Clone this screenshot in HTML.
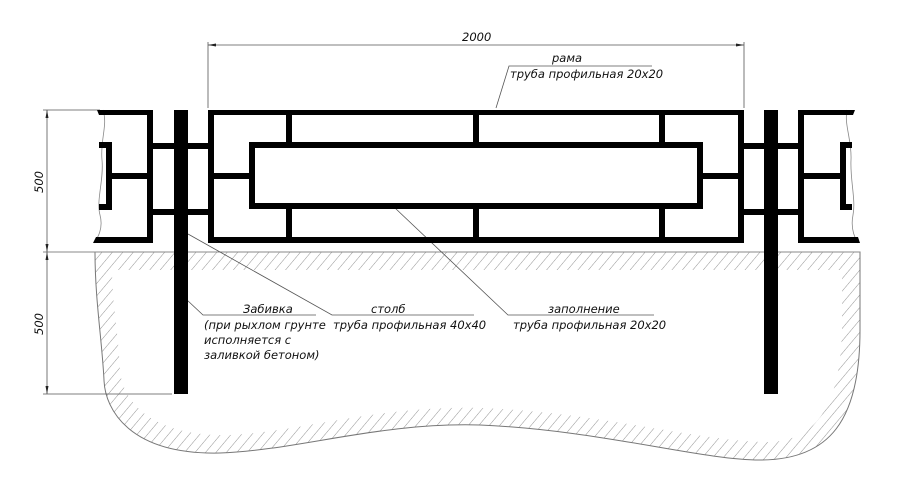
<!DOCTYPE html>
<html><head><meta charset="utf-8"><style>
html,body{margin:0;padding:0;background:#fff;}
svg{display:block;}
text{font-family:"DejaVu Sans","Liberation Sans",sans-serif;font-style:italic;font-size:11.5px;fill:#111;}
</style></head><body>
<svg width="900" height="478" viewBox="0 0 900 478" xmlns="http://www.w3.org/2000/svg">
<defs>
<pattern id="h" patternUnits="userSpaceOnUse" width="8" height="8" patternTransform="rotate(40)">
<line x1="0" y1="0" x2="0" y2="8" stroke="#777" stroke-width="0.8"/>
</pattern>
</defs>
<!-- ground -->
<path d="M95,252 L860,252 L860,330 C860,420 830,460 760,460 C700,460 600,430 480,425 C380,422 300,450 220,453 C130,455 105,410 104,380 C102,340 95,300 95,252 Z" fill="url(#h)" stroke="#777" stroke-width="1"/>
<path d="M112,270 L842,270 L842,330 C840,400 820,440 770,442 C700,442 600,412 480,408 C380,405 300,432 230,435 C150,437 122,400 120,370 C118,330 112,300 112,270 Z" fill="#fff"/>
<line x1="43" y1="252" x2="860" y2="252" stroke="#888" stroke-width="1"/>

<!-- dimensions -->
<g stroke="#555" stroke-width="0.8" fill="none">
<line x1="208" y1="42" x2="208" y2="108"/>
<line x1="744" y1="42" x2="744" y2="108"/>
<line x1="208" y1="45" x2="744" y2="45"/>
<line x1="43" y1="110" x2="100" y2="110"/>
<line x1="43" y1="394" x2="172" y2="394"/>
<line x1="47" y1="110" x2="47" y2="394"/>
<!-- leaders -->
<polyline points="496,108 509,66 652,66"/>
<polyline points="187,300 203,315 316,315"/>
<polyline points="188,234 332,315 474,315"/>
<polyline points="395,208 508,315 654,315"/>
</g>
<g fill="#222">
<polygon points="208,45 216,43.5 216,46.5"/>
<polygon points="744,45 736,43.5 736,46.5"/>
<polygon points="47,110 45.5,118 48.5,118"/>
<polygon points="47,252 45.5,244 48.5,244"/>
<polygon points="47,252 45.5,260 48.5,260"/>
<polygon points="47,394 45.5,386 48.5,386"/>
</g>

<!-- break lines -->
<path d="M103,110 C108,125 100,140 102,160 C104,180 96,200 100,215 C104,230 96,240 94,243" fill="none" stroke="#888" stroke-width="0.8"/>
<path d="M847,110 C844,125 852,140 851,160 C850,180 856,200 853,215 C850,230 856,240 858,243" fill="none" stroke="#888" stroke-width="0.8"/>

<!-- fence -->
<g fill="#000">
<!-- left partial -->
<polygon points="97,110 153,110 153,243 93,243 96,237 147,237 147,115 99,115"/>
<rect x="106" y="142" width="6" height="68"/>
<rect x="99" y="142" width="13" height="6"/>
<rect x="99" y="204" width="13" height="6"/>
<rect x="106" y="173" width="47" height="6"/>
<!-- connectors -->
<rect x="153" y="143" width="55" height="6"/>
<rect x="153" y="209" width="55" height="6"/>
<rect x="744" y="143" width="54" height="6"/>
<rect x="744" y="209" width="54" height="6"/>
<!-- main frame -->
<rect x="208" y="110" width="536" height="5"/>
<rect x="208" y="237" width="536" height="6"/>
<rect x="208" y="110" width="6" height="133"/>
<rect x="738" y="110" width="6" height="133"/>
<rect x="249" y="142" width="454" height="6"/>
<rect x="249" y="203" width="454" height="6"/>
<rect x="249" y="142" width="6" height="67"/>
<rect x="697" y="142" width="6" height="67"/>
<rect x="214" y="173" width="35" height="6"/>
<rect x="703" y="173" width="35" height="6"/>
<rect x="286" y="115" width="6" height="27"/>
<rect x="473" y="115" width="6" height="27"/>
<rect x="659" y="115" width="6" height="27"/>
<rect x="286" y="209" width="6" height="28"/>
<rect x="473" y="209" width="6" height="28"/>
<rect x="659" y="209" width="6" height="28"/>
<!-- right partial -->
<polygon points="798,110 855,110 853,115 804,115 804,237 858,237 860,243 798,243"/>
<rect x="840" y="142" width="6" height="68"/>
<rect x="840" y="142" width="12" height="6"/>
<rect x="840" y="204" width="12" height="6"/>
<rect x="804" y="173" width="42" height="6"/>
<!-- posts -->
<rect x="174" y="110" width="14" height="284"/>
<rect x="764" y="110" width="14" height="284"/>
</g>

<!-- texts -->
<text x="462" y="41">2000</text>
<text x="552" y="62">рама</text>
<text x="510" y="78">труба профильная  20x20</text>
<text x="243" y="313">Забивка</text>
<text x="204" y="329">(при рыхлом грунте</text>
<text x="204" y="344">исполняется с</text>
<text x="204" y="359">заливкой бетоном)</text>
<text x="371" y="313">столб</text>
<text x="333" y="329">труба профильная 40x40</text>
<text x="548" y="313">заполнение</text>
<text x="513" y="329">труба профильная 20x20</text>
<text transform="translate(43,193) rotate(-90)">500</text>
<text transform="translate(43,335) rotate(-90)">500</text>
</svg>
</body></html>
